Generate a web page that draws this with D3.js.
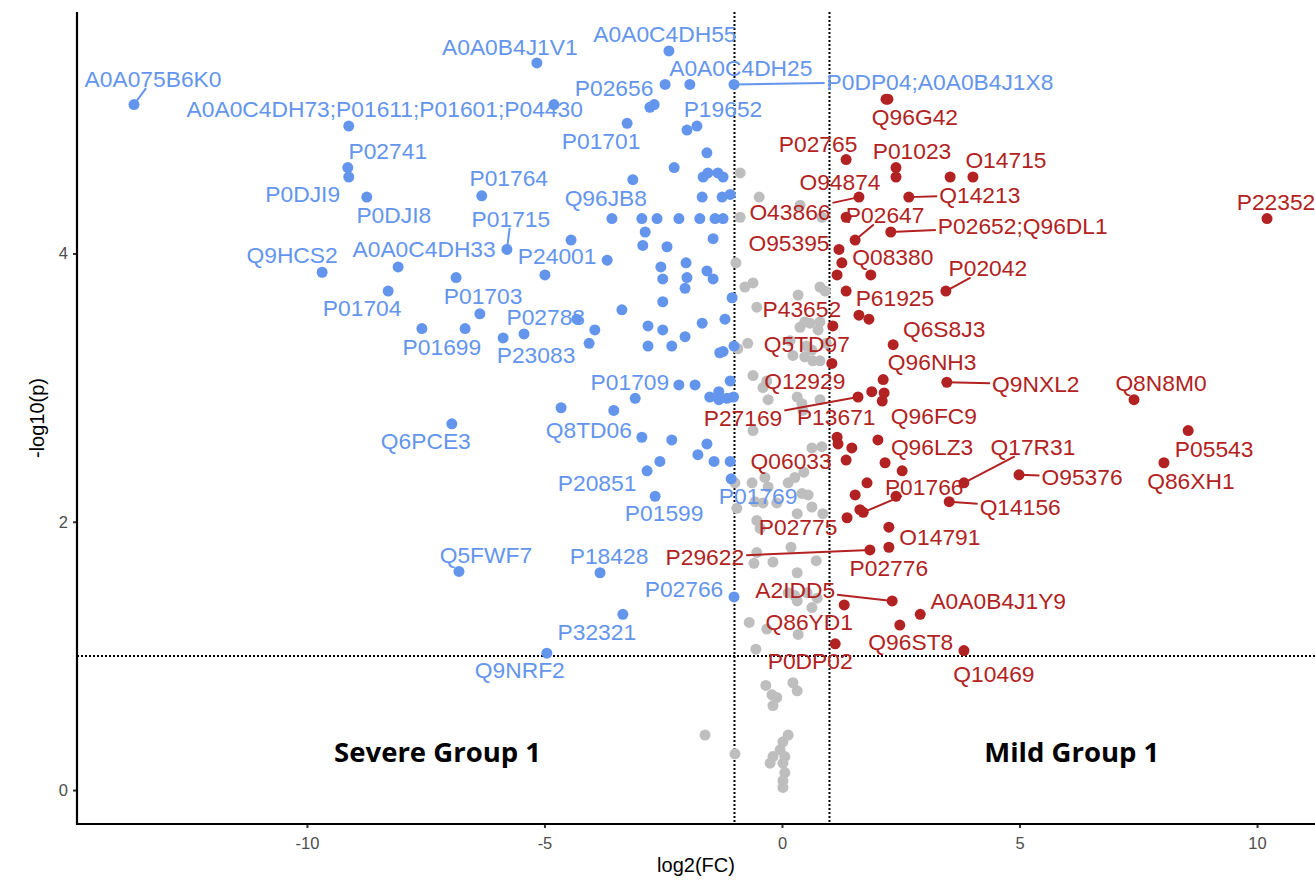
<!DOCTYPE html>
<html>
<head>
<meta charset="utf-8">
<script src="https://cdn.jsdelivr.net/npm/d3@7"></script>
<style>
  body { margin: 0; background: #fff; }
  svg { display: block; }
  .lbl { font-family: "Liberation Sans", Arial, sans-serif; font-size: 22.8px; }
</style>
</head>
<body>
<svg id="volcano"></svg>
<script>
// log2(FC), -log10(p) per protein
const severeLabeled = [
  ["A0A075B6K0", -13.64, 5.11], ["A0A0C4DH73;P01611;P01601;P04430", -9.12, 4.95],
  ["P02741", -9.14, 4.64], ["P0DJI9", -9.12, 4.57], ["P0DJI8", -8.74, 4.42],
  ["P01764", -6.32, 4.43], ["P01715", -5.79, 4.03], ["Q9HCS2", -9.68, 3.86],
  ["A0A0C4DH33", -8.08, 3.90], ["P01704", -8.29, 3.72], ["P01703", -6.86, 3.82],
  ["P01699", -7.58, 3.44], ["P02788", -4.32, 3.51], ["P23083", -5.43, 3.40],
  ["P24001", -3.68, 3.95], ["A0A0B4J1V1", -5.16, 5.42], ["A0A0C4DH55", -2.38, 5.51],
  ["P02656", -2.46, 5.26], ["A0A0C4DH25", -1.94, 5.26], ["P0DP04;A0A0B4J1X8", -1.01, 5.26],
  ["P19652", -1.79, 4.95], ["P01701", -3.26, 4.97], ["Q96JB8", -3.14, 4.55],
  ["P01709", -2.17, 3.02], ["Q8TD06", -3.54, 2.83], ["Q6PCE3", -6.95, 2.73],
  ["P20851", -2.84, 2.38], ["P01599", -2.67, 2.19], ["P01769", -1.07, 2.32],
  ["Q5FWF7", -6.80, 1.63], ["P18428", -3.83, 1.62], ["P02766", -1.01, 1.44],
  ["P32321", -3.35, 1.31], ["Q9NRF2", -4.95, 1.02]
];

const severeOther = [
  [-4.80, 5.11], [-2.78, 5.09], [-2.69, 5.11], [-2.00, 4.92], [-1.58, 4.75], [-2.27, 4.64],
  [-1.66, 4.57], [-1.56, 4.60], [-1.35, 4.60], [-1.24, 4.57], [-1.68, 4.42], [-1.26, 4.42],
  [-1.09, 4.44], [-3.58, 4.26], [-2.95, 4.26], [-2.63, 4.26], [-2.17, 4.26], [-1.73, 4.26],
  [-1.41, 4.26], [-1.24, 4.26], [-2.88, 4.16], [-1.45, 4.11], [-4.44, 4.10], [-2.93, 4.06],
  [-2.42, 4.05], [-2.55, 3.90], [-2.02, 3.93], [-1.58, 3.87], [-1.45, 3.81], [-2.51, 3.81],
  [-2.00, 3.82], [-2.04, 3.74], [-2.51, 3.64], [-1.05, 3.67], [-4.99, 3.84], [-3.37, 3.58],
  [-2.82, 3.46], [-2.51, 3.43], [-2.04, 3.38], [-1.68, 3.48], [-1.20, 3.51], [-3.94, 3.43],
  [-4.06, 3.33], [-5.87, 3.37], [-2.82, 3.31], [-2.32, 3.31], [-1.31, 3.26], [-1.24, 3.27],
  [-1.01, 3.31], [-1.83, 3.02], [-1.09, 3.05], [-3.09, 2.92], [-1.52, 2.93], [-1.33, 2.97],
  [-1.33, 2.91], [-1.16, 2.92], [-1.02, 2.93], [-4.65, 2.85], [-2.95, 2.63], [-2.32, 2.61],
  [-1.58, 2.58], [-1.77, 2.50], [-1.43, 2.45], [-1.09, 2.45], [-2.57, 2.45], [-6.36, 3.55],
  [-6.67, 3.44]
];

const mildLabeled = [
  ["Q96G42", 2.23, 5.15], ["P02765", 1.35, 4.70], ["P01023", 2.40, 4.64], ["O14715", 4.02, 4.57],
  ["O94874", 2.40, 4.57], ["O43866", 1.62, 4.42], ["Q14213", 2.67, 4.42], ["P02647", 1.54, 4.10],
  ["P02652;Q96DL1", 2.29, 4.16], ["O95395", 1.20, 4.03], ["Q08380", 1.87, 3.84], ["P02042", 3.45, 3.72],
  ["P61925", 1.62, 3.54], ["P43652", 1.07, 3.46], ["Q6S8J3", 2.34, 3.32], ["Q5TD97", 1.05, 3.18],
  ["Q96NH3", 2.13, 3.06], ["Q9NXL2", 3.47, 3.04], ["Q12929", 1.89, 2.97], ["P27169", 1.60, 2.93],
  ["P13671", 2.11, 2.90], ["Q96FC9", 2.02, 2.61], ["Q96LZ3", 2.17, 2.44], ["Q06033", 1.35, 2.46],
  ["Q17R31", 3.83, 2.29], ["O95376", 4.99, 2.35], ["P01766", 1.71, 2.07], ["Q14156", 3.52, 2.15],
  ["P02775", 1.37, 2.03], ["O14791", 2.25, 1.96], ["P29622", 1.85, 1.79], ["P02776", 2.25, 1.81],
  ["A2IDD5", 2.32, 1.41], ["A0A0B4J1Y9", 2.91, 1.31], ["Q86YD1", 1.31, 1.38], ["Q96ST8", 2.48, 1.23],
  ["P0DP02", 1.12, 1.09], ["Q10469", 3.83, 1.04], ["P22352", 10.21, 4.26], ["Q8N8M0", 7.41, 2.91],
  ["P05543", 8.55, 2.68], ["Q86XH1", 8.04, 2.44]
];

const mildOther = [
  [2.19, 5.15], [3.54, 4.57], [1.35, 4.27], [1.26, 3.93], [1.16, 3.84], [1.35, 3.72],
  [1.83, 3.51], [2.15, 2.96], [1.16, 2.63], [1.18, 2.58], [1.47, 2.55], [2.53, 2.38],
  [1.79, 2.29], [1.54, 2.20], [2.40, 2.19], [1.64, 2.09]
];

const notSignificant = [
  [-0.88, 4.60], [-0.48, 4.42], [-0.88, 4.27], [0.84, 4.27], [0.38, 4.36], [-0.97, 3.93],
  [-0.61, 3.78], [-0.78, 3.75], [0.34, 3.69], [0.80, 3.75], [0.91, 3.72], [-0.53, 3.60],
  [0.48, 3.49], [0.59, 3.48], [0.38, 3.45], [0.80, 3.49], [-0.72, 3.33], [-0.93, 3.29],
  [0.65, 3.20], [0.80, 3.20], [-0.61, 3.09], [-0.32, 3.05], [-0.40, 3.00], [0.32, 2.93],
  [0.42, 2.88], [0.44, 2.83], [0.80, 2.91], [-0.29, 2.91], [-0.61, 2.68], [0.63, 2.55],
  [0.84, 2.56], [-0.63, 2.29], [-0.36, 2.33], [-0.29, 2.26], [0.13, 2.29], [0.27, 2.33],
  [0.42, 2.21], [0.55, 2.20], [0.46, 2.37], [-0.95, 2.10], [-0.11, 2.14], [0.32, 2.06],
  [0.63, 2.11], [0.86, 2.06], [-0.53, 2.01], [-0.46, 1.95], [0.19, 1.81], [-0.53, 1.77],
  [-0.59, 1.69], [-0.19, 1.70], [0.72, 1.71], [0.32, 1.62], [0.13, 1.47], [0.27, 1.45],
  [0.53, 1.47], [0.74, 1.43], [0.32, 1.41], [0.63, 1.36], [-0.69, 1.25], [-0.32, 1.20],
  [0.34, 1.16], [-0.55, 1.05], [-0.34, 0.78], [-0.21, 0.71], [-0.11, 0.69], [-0.19, 0.63],
  [0.23, 0.80], [0.32, 0.74], [-0.99, 0.27], [-1.62, 0.41], [0.13, 0.41], [0.02, 0.36],
  [-0.04, 0.30], [-0.19, 0.25], [0.06, 0.25], [-0.25, 0.20], [0.02, 0.20], [0.06, 0.13],
  [0.02, 0.07], [0.02, 0.02], [-0.57, 2.15], [-0.40, 2.14], [-0.99, 2.29], [0.17, 3.35],
  [0.51, 3.31], [0.23, 3.24], [0.48, 3.23], [0.93, 3.33], [0.76, 3.43], [0.63, 3.28]
];

const xTicks = [-10, -5, 0, 5, 10];
const yTicks = [0, 2, 4];
const fcCut = [-1, 1];
const pCut = 1;
const groupNames = ["Severe Group 1", "Mild Group 1"];

// repel layout: label centre offset in px from the point, and whether a segment is drawn
const nudge = {
  "A0A075B6K0": [19, -26, 1], "A0A0C4DH73;P01611;P01601;P04430": [36, -17, 0],
  "P02741": [40, -17, 0], "P0DJI9": [-46, 17, 0], "P0DJI8": [27, 18, 0], "P01764": [27, -18, 0],
  "P01715": [4, -31, 1], "Q9HCS2": [-30, -17, 0], "A0A0C4DH33": [26, -18, 0], "P01704": [-26, 17, 0],
  "P01703": [27, 18, 0], "P01699": [20, 18, 0], "P02788": [-31, -2, 0], "P23083": [12, 21, 0],
  "P24001": [-50, -4, 0], "A0A0B4J1V1": [-27, -16, 0], "A0A0C4DH55": [-4, -17, 0],
  "P02656": [-51, 3, 0], "A0A0C4DH25": [51, -17, 0], "P0DP04;A0A0B4J1X8": [206, -3, 1],
  "P19652": [26, -17, 0], "P01701": [-26, 17, 0], "Q96JB8": [-27, 18, 0], "P01709": [-49, -3, 0],
  "Q8TD06": [-25, 19, 0], "Q6PCE3": [-26, 17, 0], "P20851": [-50, 12, 0], "P01599": [9, 17, 0],
  "P01769": [27, 17, 0], "Q5FWF7": [27, -17, 0], "P18428": [9, -17, 0], "P02766": [-50, -8, 0],
  "P32321": [-26, 17, 0], "Q9NRF2": [-27, 17, 0],
  "Q96G42": [27, 18, 0], "P02765": [-28, -16, 0], "P01023": [16, -17, 0], "O14715": [33, -17, 0],
  "O94874": [-56, 5, 0], "O43866": [-69, 15, 1], "Q14213": [71, -2, 1], "P02647": [30, -25, 1],
  "P02652;Q96DL1": [132, -6, 1], "O95395": [-50, -7, 0], "Q08380": [22, -18, 0], "P02042": [42, -23, 1],
  "P61925": [36, -17, 0], "P43652": [-31, -17, 0], "Q6S8J3": [51, -16, 0], "Q5TD97": [-25, -20, 0],
  "Q96NH3": [49, -18, 0], "Q9NXL2": [89, 2, 1], "Q12929": [-67, -11, 0], "P27169": [-115, 21, 1],
  "P13671": [-46, 16, 0], "Q96FC9": [56, -24, 0], "Q96LZ3": [47, -16, 0], "Q06033": [-55, 1, 0],
  "Q17R31": [69, -36, 1], "O95376": [63, 2, 1], "P01766": [61, -26, 1], "Q14156": [71, 5, 1],
  "P02775": [-49, 9, 0], "O14791": [51, 10, 0], "P29622": [-165, 7, 1], "P02776": [0, 21, 0],
  "A2IDD5": [-97, -11, 1], "A0A0B4J1Y9": [78, -14, 0], "Q86YD1": [-35, 17, 0], "Q96ST8": [11, 17, 0],
  "P0DP02": [-25, 17, 0], "Q10469": [30, 23, 0], "P22352": [9, -17, 0], "Q8N8M0": [27, -17, 0],
  "P05543": [26, 18, 0], "Q86XH1": [27, 18, 0]
};

const blue = "#6495ED", red = "#B22222", grey = "#BEBEBE";

const W = 1315, H = 880;
const margin = {top: 12, right: 0, bottom: 56, left: 77};

const svg = d3.select("#volcano").attr("width", W).attr("height", H);

const x = d3.scaleLinear().domain([-14.84, 11.22]).range([margin.left, W - margin.right]);
const y = d3.scaleLinear().domain([-0.253, 5.80]).range([H - margin.bottom, margin.top]);

// threshold lines
svg.append("g").selectAll("line.vcut")
  .data(fcCut)
  .join("line")
    .attr("x1", d => x(d)).attr("x2", d => x(d))
    .attr("y1", y.range()[1]).attr("y2", y.range()[0])
    .attr("stroke", "#000").attr("stroke-width", 2).attr("stroke-dasharray", "2,2");

svg.append("line")
  .attr("x1", x.range()[0]).attr("x2", x.range()[1])
  .attr("y1", y(pCut)).attr("y2", y(pCut))
  .attr("stroke", "#000").attr("stroke-width", 2).attr("stroke-dasharray", "2,2");

// points
const r = 5.5;
svg.append("g").selectAll("circle")
  .data(notSignificant)
  .join("circle")
    .attr("cx", d => x(d[0])).attr("cy", d => y(d[1])).attr("r", r).attr("fill", grey);

svg.append("g").selectAll("circle")
  .data(severeOther.concat(severeLabeled.map(d => [d[1], d[2]])))
  .join("circle")
    .attr("cx", d => x(d[0])).attr("cy", d => y(d[1])).attr("r", r).attr("fill", blue);

svg.append("g").selectAll("circle")
  .data(mildOther.concat(mildLabeled.map(d => [d[1], d[2]])))
  .join("circle")
    .attr("cx", d => x(d[0])).attr("cy", d => y(d[1])).attr("r", r).attr("fill", red);

// labels with repel-style segments
function drawLabels(rows, color) {
  const g = svg.append("g");
  rows.forEach(d => {
    const px = x(d[1]), py = y(d[2]);
    const n = nudge[d[0]] || [0, -18, 0];
    const cx = px + n[0], cy = py + n[1];
    const t = g.append("text")
      .attr("class", "lbl")
      .attr("x", cx).attr("y", cy)
      .attr("dy", "0.36em")
      .attr("text-anchor", "middle")
      .attr("fill", color)
      .text(d[0]);
    if (n[2]) {
      const bb = t.node().getBBox();
      const hw = bb.width / 2 + 2, hh = 9.5;
      const dx = px - cx, dy = py - cy;
      const s = Math.min(Math.abs(hw / (dx || 1e-6)), Math.abs(hh / (dy || 1e-6)));
      g.insert("line", "text")
        .attr("x1", px).attr("y1", py)
        .attr("x2", cx + dx * s).attr("y2", cy + dy * s)
        .attr("stroke", color).attr("stroke-width", 2);
    }
  });
}
drawLabels(severeLabeled, blue);
drawLabels(mildLabeled, red);

// group annotations
svg.append("g").selectAll("text")
  .data([[-7.25, 0.28], [6.1, 0.28]])
  .join("text")
    .attr("x", d => x(d[0])).attr("y", d => y(d[1]))
    .attr("dy", "0.36em")
    .attr("text-anchor", "middle")
    .style("font-family", "'Open Sans', 'Liberation Sans', sans-serif")
    .style("font-weight", 700)
    .style("font-size", "27.5px")
    .text((d, i) => groupNames[i]);

// axes
const xAxis = svg.append("g")
  .attr("transform", `translate(0,${H - margin.bottom})`)
  .call(d3.axisBottom(x).tickValues(xTicks).tickSizeOuter(0).tickSize(4).tickPadding(5)
    .tickFormat(d => d < 0 ? "-" + Math.abs(d) : String(d)));
const yAxis = svg.append("g")
  .attr("transform", `translate(${margin.left},0)`)
  .call(d3.axisLeft(y).tickValues(yTicks).tickSizeOuter(0).tickSize(4).tickPadding(5)
    .tickFormat(d3.format("d")));

[xAxis, yAxis].forEach(a => {
  a.select(".domain").remove();
  a.selectAll(".tick line").attr("stroke", "#333").attr("stroke-width", 2);
  a.selectAll(".tick text")
    .attr("fill", "#4D4D4D")
    .style("font-family", "'Liberation Sans', Arial, sans-serif")
    .style("font-size", "16.5px");
});
xAxis.selectAll(".tick text").attr("dy", "0.95em");

// axis lines (theme_classic L shape)
svg.append("path")
  .attr("d", d3.line()([[x.range()[0], y.range()[1]], [x.range()[0], y.range()[0]], [x.range()[1], y.range()[0]]]))
  .attr("fill", "none").attr("stroke", "#000").attr("stroke-width", 2.2)
  .attr("stroke-linejoin", "miter");

svg.append("text")
  .attr("x", (margin.left + W) / 2).attr("y", H - 8)
  .attr("text-anchor", "middle")
  .style("font-family", "'Liberation Sans', Arial, sans-serif")
  .style("font-size", "20px")
  .text("log2(FC)");

svg.append("text")
  .attr("transform", `translate(44,${(margin.top + H - margin.bottom) / 2}) rotate(-90)`)
  .attr("text-anchor", "middle")
  .style("font-family", "'Liberation Sans', Arial, sans-serif")
  .style("font-size", "20px")
  .text("-log10(p)");
</script>
</body>
</html>
